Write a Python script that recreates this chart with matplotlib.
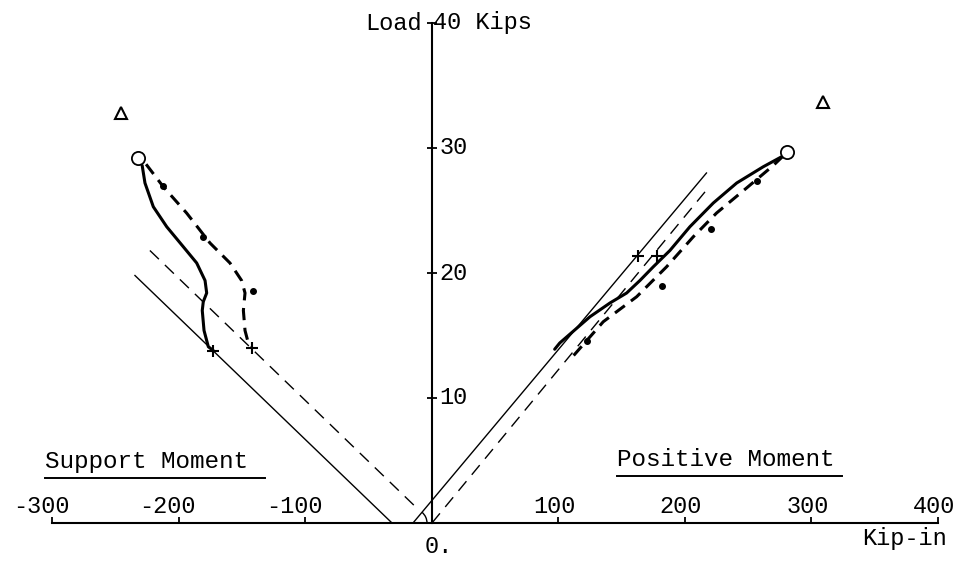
import matplotlib
matplotlib.use("Agg")
import matplotlib.pyplot as plt
from matplotlib.patches import Arc
from matplotlib.transforms import ScaledTranslation

# ---------------- data ----------------
x_ticks = [-300, -200, -100, 100, 200, 300, 400]
y_ticks = [10, 20, 30]

# Support moment side (negative x)
sup_solid_x = [-229.1, -226.9, -220.3, -209.7, -196.6, -186.0, -179.4, -178.1, -180.8, -181.6, -180.2, -176.8, -172.9]
sup_solid_y = [28.6, 27.2, 25.3, 23.7, 22.1, 20.8, 19.4, 18.4, 17.7, 17.0, 15.4, 14.1, 13.8]
sup_dash_x = [-226.0, -212.4, -194.0, -175.5, -159.7, -150.5, -147.8, -149.1, -147.8, -145.2, -142.5]
sup_dash_y = [28.7, 26.9, 24.8, 22.4, 20.8, 19.4, 18.4, 17.0, 15.4, 14.4, 14.0]
sup_dots_x = [-213.0, -181.3, -141.2]
sup_dots_y = [27.0, 22.9, 18.6]
sup_plus_x = [-172.9, -142.5]
sup_plus_y = [13.8, 14.0]
sup_circle = (-232.6, 29.2)
sup_tri = (-245.8, 32.8)
sup_line_solid_x = [-234.8, -31.6]
sup_line_solid_y = [19.8, 0.0]
sup_line_dash_x = [-223.0, -12.0]
sup_line_dash_y = [21.8, 1.2]

# Positive moment side
pos_solid_x = [97.0, 101.0, 124.9, 140.7, 153.9, 164.4, 175.0, 188.1, 203.9, 222.4, 240.9, 261.9, 276.4]
pos_solid_y = [13.9, 14.4, 16.5, 17.6, 18.4, 19.4, 20.5, 21.8, 23.7, 25.6, 27.2, 28.5, 29.3]
pos_dash_x = [112.0, 135.4, 161.8, 185.5, 206.6, 225.0, 248.7, 269.8, 277.0]
pos_dash_y = [13.4, 16.1, 18.1, 20.5, 22.9, 24.8, 26.8, 28.6, 29.3]
pos_dots_x = [122.3, 181.5, 220.6, 256.7]
pos_dots_y = [14.6, 19.0, 23.5, 27.4]
pos_plus_x = [162.6, 178.1]
pos_plus_y = [21.4, 21.4]
pos_circle = (280.4, 29.7)
pos_tri = (309.0, 33.7)
pos_line_solid_x = [-15.0, 217.0]
pos_line_solid_y = [0.0, 28.0]
pos_line_dash_x = [0.0, 220.0]
pos_line_dash_y = [0.0, 27.0]

# ---------------- figure ----------------
fig = plt.figure(figsize=(9.64, 5.65), dpi=100)
ax = fig.add_axes([0, 0, 1, 1])
ax.set_xlim(-341.5, 420.6)
ax.set_ylim(-3.36, 41.84)
ax.set_facecolor("white")

FONT = "Liberation Mono"
K = "black"

# axes as spines through origin
for s in ("top", "right"):
    ax.spines[s].set_visible(False)
ax.spines["left"].set_position(("data", 0))
ax.spines["bottom"].set_position(("data", 0))
ax.spines["left"].set_bounds(0, 40)
ax.spines["bottom"].set_bounds(-300, 400)
ax.spines["left"].set_linewidth(1.5)
ax.spines["bottom"].set_linewidth(1.5)
ax.set_xticks(x_ticks)
ax.set_yticks(y_ticks + [40])
ax.tick_params(axis="x", direction="in", length=4, width=1.3,
               labelbottom=False, top=False)
ax.tick_params(axis="y", direction="inout", length=7, width=1.3,
               labelleft=False, right=False)

# tick labels
for v in x_ticks:
    if v < 0:
        ax.annotate(f"{v:d}".replace("-", "-"), (v, 0), xytext=(12, 7.5),
                    textcoords="offset points", ha="right", va="baseline",
                    fontsize=17, family=FONT, color=K)
    else:
        ax.annotate(f"{v:d}", (v, 0), xytext=(-3, 7.5),
                    textcoords="offset points", ha="center", va="baseline",
                    fontsize=17, family=FONT, color=K)
for v in y_ticks:
    ax.annotate(f"{v:d}", (0, v), xytext=(5.5, 0), textcoords="offset points",
                ha="left", va="center", fontsize=17, family=FONT, color=K)

ax.annotate("Load", (0, 40), xytext=(-7, 0), textcoords="offset points",
            ha="right", va="center", fontsize=17, family=FONT, color=K)
ax.annotate("40 Kips", (0, 40), xytext=(0.5, 0), textcoords="offset points",
            ha="left", va="center", fontsize=17, family=FONT, color=K)
ax.annotate("0.", (0, 0), xytext=(-5, -17), textcoords="offset points",
            ha="left", va="center", fontsize=17, family=FONT, color=K)
ax.text(340, -1.76, "Kip-in", ha="left", va="baseline",
        fontsize=17, family=FONT, color=K)

# section titles with underline
ax.text(-306, 4.4, "Support Moment", ha="left", va="baseline",
        fontsize=17.5, family=FONT, color=K)
ax.plot([-306, -132], [3.6, 3.6], color=K, lw=1.4)
ax.text(146, 4.6, "Positive Moment", ha="left", va="baseline",
        fontsize=17.5, family=FONT, color=K)
ax.plot([146, 324], [3.8, 3.8], color=K, lw=1.4)

# thin reference lines
ax.plot(sup_line_solid_x, sup_line_solid_y, color=K, lw=1.0)
ax.plot(sup_line_dash_x, sup_line_dash_y, color=K, lw=1.0, ls=(0, (9, 6)))
ax.plot(pos_line_solid_x, pos_line_solid_y, color=K, lw=1.0)
ax.plot(pos_line_dash_x, pos_line_dash_y, color=K, lw=1.0, ls=(0, (9, 6)))

# angle arc at foot of the positive solid line
arc_tr = fig.dpi_scale_trans + ScaledTranslation(pos_line_solid_x[0], 0, ax.transData)
ax.add_patch(Arc((0, 0), 0.28, 0.28, theta1=0, theta2=50, transform=arc_tr,
                 color=K, lw=1.0))

# thick curves
ax.plot(sup_solid_x, sup_solid_y, color=K, lw=2.2, solid_capstyle="round")
ax.plot(sup_dash_x, sup_dash_y, color=K, lw=2.2, ls=(0, (4, 2.5)))
ax.plot(pos_solid_x, pos_solid_y, color=K, lw=2.2, solid_capstyle="round")
ax.plot(pos_dash_x, pos_dash_y, color=K, lw=2.2, ls=(0, (4, 2.5)))

# markers
ax.plot(sup_dots_x, sup_dots_y, "o", color=K, ms=4)
ax.plot(pos_dots_x, pos_dots_y, "o", color=K, ms=4)
ax.plot(sup_plus_x, sup_plus_y, "+", color=K, ms=9, mew=1.5)
ax.plot(pos_plus_x, pos_plus_y, "+", color=K, ms=9, mew=1.5)
for c in (sup_circle, pos_circle):
    ax.plot([c[0]], [c[1]], "o", ms=9.5, mfc="white", mec=K, mew=1.3)
for t in (sup_tri, pos_tri):
    ax.plot([t[0]], [t[1]], "^", ms=9, mfc="white", mec=K, mew=1.5)

fig.savefig("out.png", dpi=100, facecolor="white")
